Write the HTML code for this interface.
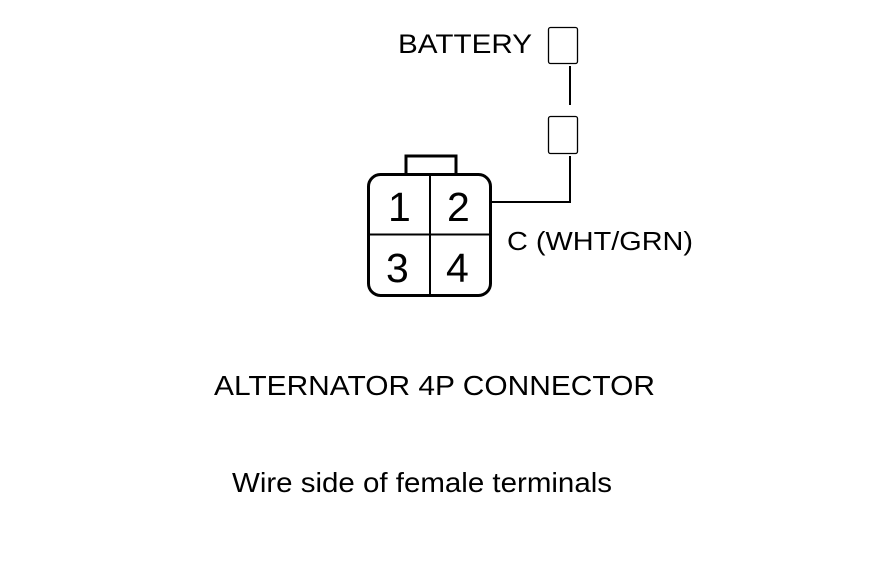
<!DOCTYPE html>
<html><head><meta charset="utf-8"><style>
html,body{margin:0;padding:0;background:#fff;}
svg{display:block;font-family:"Liberation Sans",Arial,sans-serif;}
</style></head><body>
<svg width="880" height="580" viewBox="0 0 880 580" xmlns="http://www.w3.org/2000/svg">
<rect width="880" height="580" fill="#fff"/>
<g fill="none" stroke="#000">
<rect x="548.5" y="27.5" width="29" height="36" rx="2" stroke-width="1.3"/>
<rect x="548.5" y="116.5" width="29" height="37" rx="2" stroke-width="1.3"/>
<line x1="570" y1="66" x2="570" y2="105" stroke-width="2"/>
<polyline points="570,156 570,202 491,202" stroke-width="2"/>
<rect x="406" y="156" width="50" height="19" stroke-width="3"/>
<rect x="368.5" y="174.5" width="122" height="121" rx="12" stroke-width="3" fill="#fff"/>
<line x1="430" y1="175" x2="430" y2="295" stroke-width="2"/>
<line x1="369" y1="234.5" x2="490" y2="234.5" stroke-width="2"/>
</g>
<g fill="#000">
<text x="398" y="53" font-size="27" textLength="134" lengthAdjust="spacingAndGlyphs">BATTERY</text>
<text x="388" y="221" font-size="41">1</text>
<text x="447" y="221" font-size="41">2</text>
<text x="386" y="282" font-size="41">3</text>
<text x="446" y="282" font-size="41">4</text>
<text x="507" y="250" font-size="26" textLength="186" lengthAdjust="spacingAndGlyphs">C (WHT/GRN)</text>
<text x="214" y="395" font-size="28" textLength="441" lengthAdjust="spacingAndGlyphs">ALTERNATOR 4P CONNECTOR</text>
<text x="232" y="492" font-size="28" textLength="380" lengthAdjust="spacingAndGlyphs">Wire side of female terminals</text>
</g>
</svg>
</body></html>
